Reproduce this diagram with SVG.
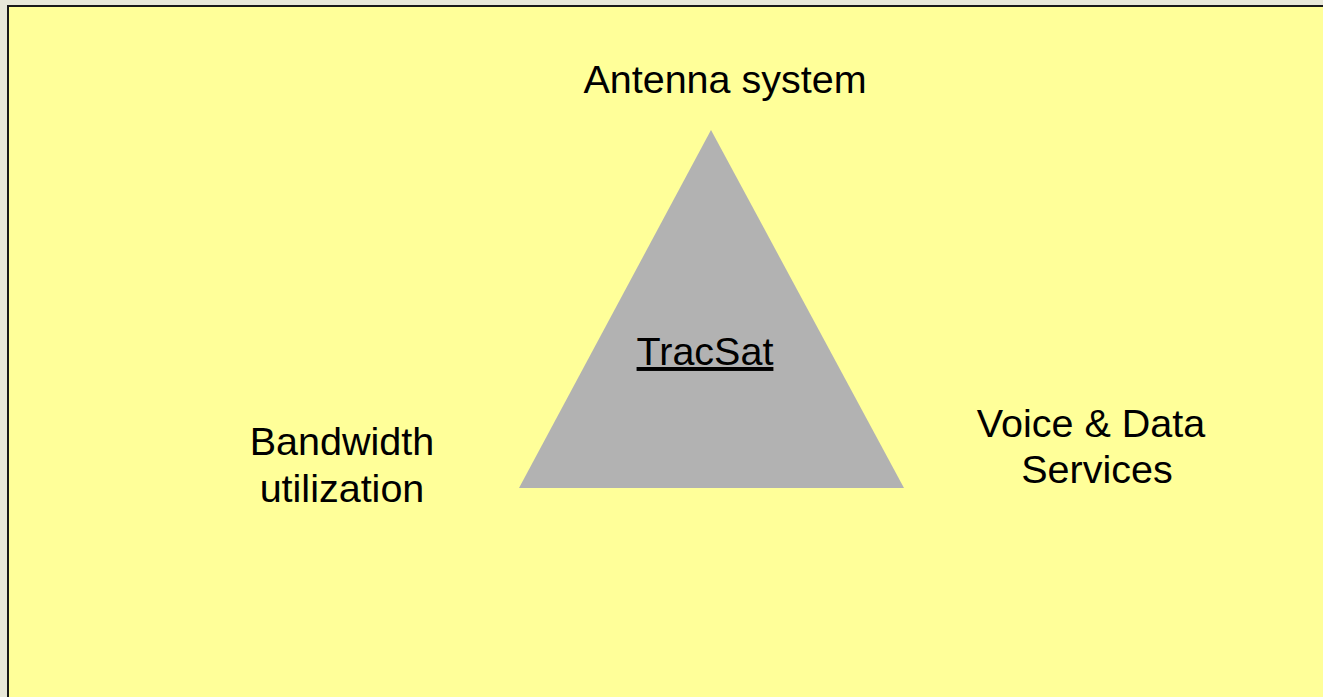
<svg xmlns="http://www.w3.org/2000/svg" width="1323" height="697" viewBox="0 0 1323 697">
<style>
.lbl{font-family:"Liberation Sans",Arial,sans-serif;font-size:39.5px;fill:#000}
</style>
<rect x="0" y="0" width="1323" height="697" fill="#e8e8d9"/>
<rect id="frame" x="8" y="6" width="1330" height="710" fill="#ffff99" stroke="#1a1a1a" stroke-width="2"/>
<g id="triangle">
<polygon points="711,130 904,488 519,488" fill="#b2b2b2"/>
<text class="lbl" x="705" y="365" text-anchor="middle" text-decoration="underline">TracSat</text>
</g>
<g id="antenna"><text class="lbl" x="725" y="93" text-anchor="middle">Antenna system</text></g>
<g id="bandwidth"><text class="lbl" text-anchor="middle"><tspan x="342" y="455">Bandwidth</tspan><tspan x="342" y="502">utilization</tspan></text></g>
<g id="voice"><text class="lbl" text-anchor="middle"><tspan x="1091" y="437">Voice &amp; Data</tspan><tspan x="1097" y="483">Services</tspan></text></g>
<g id="connectors"/>
</svg>
